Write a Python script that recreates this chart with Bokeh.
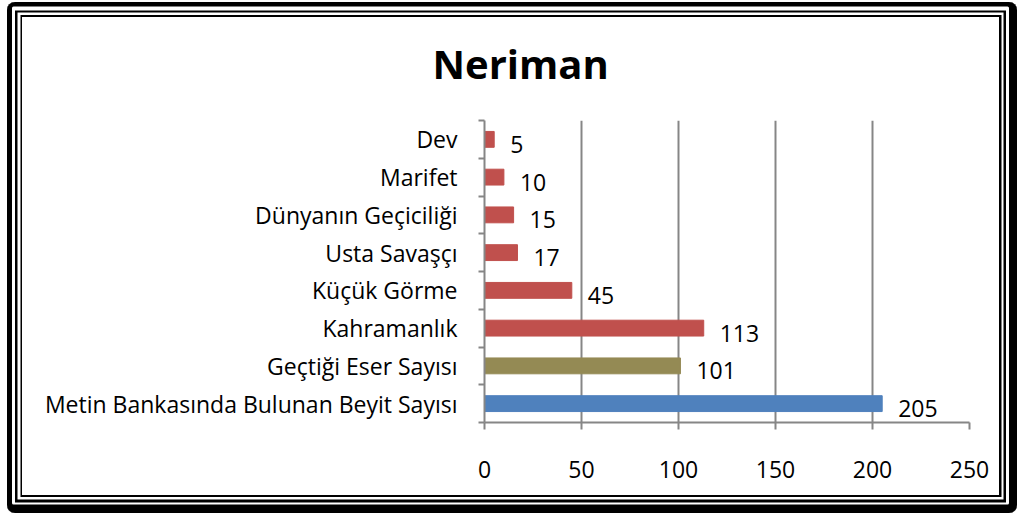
from bokeh.plotting import figure
from bokeh.models import (ColumnDataSource, FixedTicker, Range1d, Title, LabelSet)
from bokeh.core.properties import value
from bokeh.embed import file_html
from bokeh.resources import INLINE

# ---- data (bottom to top) ----
categories = [
    "Metin Bankasında Bulunan Beyit Sayısı",
    "Geçtiği Eser Sayısı",
    "Kahramanlık",
    "Küçük Görme",
    "Usta Savaşçı",
    "Dünyanın Geçiciliği",
    "Marifet",
    "Dev",
]
counts = [205, 101, 113, 45, 17, 15, 10, 5]
bar_colors = ["#4F81BD", "#948A54", "#C0504D", "#C0504D",
              "#C0504D", "#C0504D", "#C0504D", "#C0504D"]
x_ticks = [0, 50, 100, 150, 200, 250]
title_text = "Neriman"

FONT = "Open Sans"
GRID = "#868686"

n = len(categories)
centers = [i + 0.5 for i in range(n)]
src = ColumnDataSource(dict(y=centers, v=counts, c=bar_colors,
                            lbl=[str(v) for v in counts]))

p = figure(width=1010, height=511, output_backend="svg", toolbar_location=None,
           x_range=Range1d(0, 250), y_range=Range1d(0, n),
           min_border_left=477, min_border_right=48,
           min_border_top=118, min_border_bottom=91)
p.styles = {
    "margin-left": "7px",
    "margin-top": "2px",
    "background-color": "white",
    "border-radius": "8px",
    "box-shadow": ("inset -1.5px -2px 0 6.5px black, "
                   "inset -1.5px -1px 0 9.5px white, "
                   "inset -1.5px -1.5px 0 12px black, "
                   "inset -1px -1.5px 0 14.5px white, "
                   "inset -1.5px -1.5px 0 16.5px black"),
}
p.outline_line_color = None
p.background_fill_color = None
p.border_fill_color = None

p.hbar(y="y", left=0, right="v", height=0.42, color="c", source=src)

labels = LabelSet(x="v", y="y", text="lbl", source=src, x_offset=16, y_offset=-5,
                  text_baseline="middle", text_align="left",
                  text_font=value(FONT), text_font_size="23px", text_color="black")
p.add_layout(labels)

# x axis
xa = p.xaxis[0]
xa.ticker = FixedTicker(ticks=x_ticks)
xa.axis_line_color = GRID
xa.axis_line_width = 2
xa.major_tick_line_color = GRID
xa.major_tick_line_width = 2
xa.major_tick_out = 7
xa.major_tick_in = 0
xa.minor_tick_line_color = None
xa.major_label_standoff = 31
xa.major_label_text_font = FONT
xa.major_label_text_font_size = "23px"
xa.major_label_text_color = "black"

# y axis
ya = p.yaxis[0]
ya.ticker = FixedTicker(ticks=centers, minor_ticks=list(range(n + 1)))
ya.major_label_overrides = {c: name for c, name in zip(centers, categories)}
ya.axis_line_color = GRID
ya.axis_line_width = 2
ya.major_tick_line_color = None
ya.major_tick_out = 0
ya.major_tick_in = 0
ya.minor_tick_line_color = GRID
ya.minor_tick_line_width = 2
ya.minor_tick_out = 6
ya.minor_tick_in = 0
ya.major_label_standoff = 21
ya.major_label_text_font = FONT
ya.major_label_text_font_size = "23px"
ya.major_label_text_color = "black"

p.xgrid.ticker = FixedTicker(ticks=x_ticks)
p.xgrid.grid_line_color = GRID
p.xgrid.grid_line_width = 2
p.ygrid.grid_line_color = None

t = Title(text=title_text, align="left", offset=-52, standoff=60,
          text_font=FONT, text_font_size="40px", text_font_style="bold",
          text_color="black")
p.add_layout(t, "above")

open("out.html", "w").write(file_html(p, INLINE))
